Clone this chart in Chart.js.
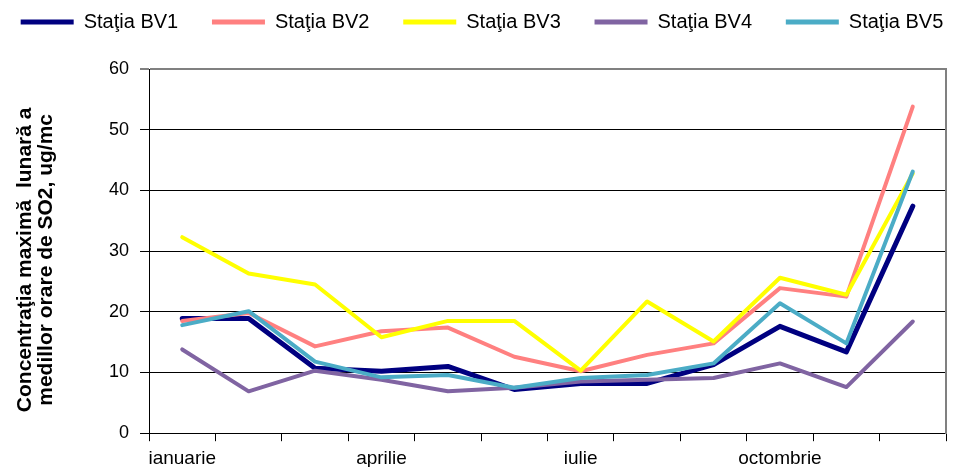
<!DOCTYPE html>
<html lang="ro">
<head>
<meta charset="UTF-8">
<title>Concentratia maxima lunara SO2</title>
<script src="https://cdn.jsdelivr.net/npm/chart.js"></script>
<style>
  html, body { margin: 0; padding: 0; background: #fff; }
  #wrap { width: 957px; height: 467px; }
</style>
</head>
<body>
<div id="wrap"><canvas id="grafic"></canvas></div>
<script>
// luni
const luni = ['ianuarie', 'februarie', 'martie', 'aprilie', 'mai', 'iunie',
  'iulie', 'august', 'septembrie', 'octombrie', 'noiembrie', 'decembrie'];

// valori, ug/mc
const bv1 = [18.9, 18.9, 10.7, 10.2, 11.0, 7.2, 8.2, 8.2, 11.3, 17.6, 13.4, 37.4];
const bv2 = [18.5, 19.8, 14.3, 16.8, 17.4, 12.6, 10.2, 12.9, 14.8, 23.9, 22.5, 53.8];
const bv3 = [32.3, 26.3, 24.5, 15.8, 18.5, 18.5, 10.3, 21.7, 15.1, 25.6, 22.8, 42.8];
const bv4 = [13.8, 6.9, 10.3, 8.8, 6.9, 7.5, 8.5, 8.8, 9.1, 11.5, 7.6, 18.4];
const bv5 = [17.8, 20.1, 11.8, 9.2, 9.6, 7.5, 9.1, 9.6, 11.5, 21.4, 14.8, 43.1];

const statii = ['Staţia BV1', 'Staţia BV2', 'Staţia BV3', 'Staţia BV4', 'Staţia BV5'];
const culori = ['#000080', '#FF8080', '#FFFF00', '#8064A2', '#4BACC6'];
const serii = [bv1, bv2, bv3, bv4, bv5];
const grosimi = [5, 4, 4, 4, 4];

const FONT = "'Liberation Sans', Arial, sans-serif";

let datasets = [];
for (let i = 0; i < serii.length; i++) {
  datasets.push({
    label: statii[i],
    data: serii[i],
    borderColor: culori[i],
    backgroundColor: culori[i],
    borderWidth: grosimi[i],
    borderCapStyle: 'round',
    borderJoinStyle: 'round',
    pointRadius: 0,
    tension: 0,
    fill: false,
    order: serii.length - i  // ultima serie deasupra, ca in Excel
  });
}

// spatiu sub legenda + mic decalaj spre dreapta
const legendaSpatiu = {
  id: 'legendaSpatiu',
  beforeInit(chart) {
    const fitVechi = chart.legend.fit;
    chart.legend.fit = function () {
      fitVechi.call(this);
      this.height += 27;
    };
  },
  afterLayout(chart) {
    chart.legend.left += 9;
    chart.legend.right += 9;
  }
};

const config = {
  type: 'line',
  data: { labels: luni, datasets: datasets },
  plugins: [legendaSpatiu],
  options: {
    responsive: true,
    maintainAspectRatio: false,
    animation: false,
    layout: { padding: { left: 0, right: 11, top: 6, bottom: -9 } },
    plugins: {
      tooltip: { enabled: false },
      legend: {
        position: 'top',
        labels: {
          color: '#000',
          font: { family: FONT, size: 20 },
          boxWidth: 53,
          boxHeight: 5,
          padding: 6,
          generateLabels: function (chart) {
            const items = Chart.defaults.plugins.legend.labels.generateLabels(chart);
            items.sort((a, b) => a.datasetIndex - b.datasetIndex);
            items.forEach((it, i) => {
              it.lineWidth = 0;
              if (i < items.length - 1) it.text = it.text + '\u00a0\u00a0\u00a0\u00a0\u00a0';
            });
            return items;
          }
        }
      }
    },
    scales: {
      x: {
        offset: true,
        border: { color: '#000', width: 1 },
        grid: { offset: true, drawOnChartArea: false, drawTicks: true, tickLength: 8, color: '#000' },
        ticks: {
          autoSkip: false,
          maxRotation: 0,
          padding: 6,
          color: '#000',
          font: { family: FONT, size: 19 },
          callback: function (val, idx) { return idx % 3 === 0 ? luni[idx] : ''; }
        }
      },
      y: {
        min: 0,
        max: 60,
        border: { color: '#000', width: 1 },
        grid: {
          color: ctx => (ctx.tick && ctx.tick.value === 60) ? '#808080' : '#000',
          lineWidth: ctx => (ctx.tick && ctx.tick.value === 60) ? 2 : 1,
          tickLength: 9
        },
        ticks: {
          stepSize: 10,
          padding: 11,
          color: '#000',
          font: { family: FONT, size: 18 }
        },
        title: {
          display: true,
          text: ['Concentraţia maximă  lunară a\u00a0\u00a0\u00a0', 'medillor orare de SO2, ug/mc\u00a0\u00a0\u00a0'],
          color: '#000',
          font: { family: FONT, size: 21, weight: 'bold', lineHeight: 1.0 },
          padding: { top: 15, bottom: 41 }
        }
      },
      y2: {
        position: 'right',
        min: 0,
        max: 60,
        border: { color: '#808080', width: 2 },
        grid: { drawOnChartArea: false, drawTicks: false },
        ticks: { display: false }
      }
    }
  }
};

let grafic = new Chart(document.getElementById('grafic'), config);
</script>
</body>
</html>
